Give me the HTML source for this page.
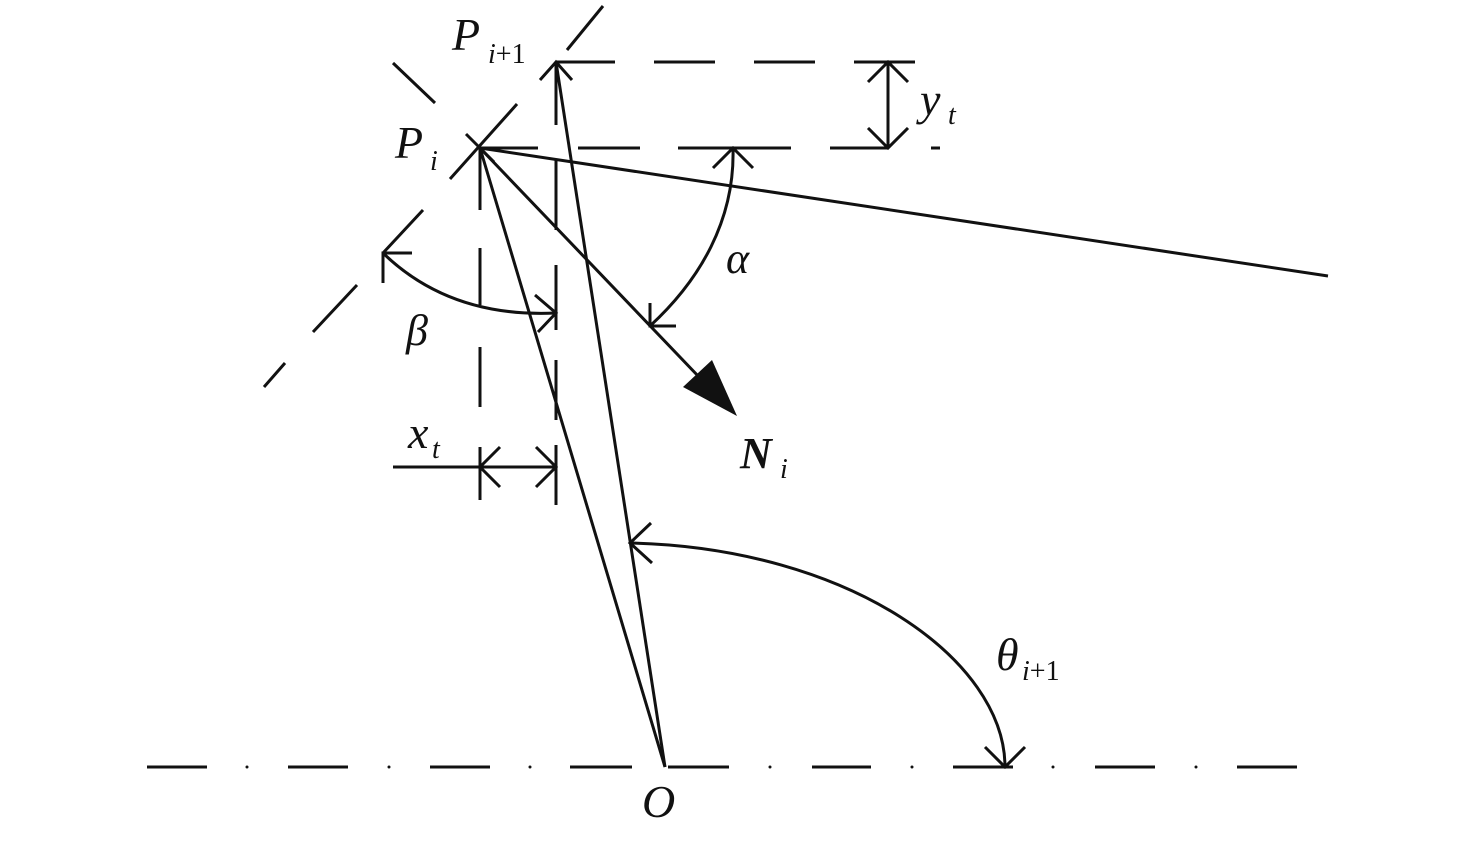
<!DOCTYPE html>
<html><head><meta charset="utf-8"><style>
html,body{margin:0;padding:0;background:#fff;}
svg{display:block}
text{font-family:"Liberation Serif",serif;font-style:italic;fill:#111}
tspan.n{font-style:normal}
</style></head><body>
<svg width="1476" height="843" viewBox="0 0 1476 843" xmlns="http://www.w3.org/2000/svg">
<g stroke="#111" stroke-width="3" fill="none" stroke-linecap="butt">
<line x1="603" y1="6" x2="567" y2="50"/>
<line x1="517" y1="104" x2="450" y2="179"/>
<line x1="423" y1="210" x2="383" y2="253"/>
<line x1="357" y1="285" x2="313" y2="332"/>
<line x1="285" y1="363" x2="264" y2="387"/>
<line x1="393" y1="63" x2="435" y2="103"/>
<path d="M556 62H615M654 62H715M754 62H815M854 62H915"/>
<path d="M480 148H538M578 148H640M678 148H791M830 148H888M931 148H940"/>
<path d="M480 148V210M480 248V305M480 347V407M480 447V500"/>
<path d="M556 62V125M556 160V230M556 265V330M556 360V420M556 445V505"/>
<line x1="888" y1="62" x2="888" y2="148"/>
<path d="M868 82L888 62L908 82M868 128L888 148L908 128"/>
<line x1="393" y1="467" x2="556" y2="467"/>
<path d="M500 447L480 467L500 487M536 447L556 467L536 487"/>
<path d="M540 80L556 62L572 80"/>
<path d="M466 134L494 162"/>
<line x1="480" y1="148" x2="1328" y2="276"/>
<line x1="480" y1="148" x2="665" y2="767"/>
<line x1="556" y1="62" x2="665" y2="767"/>
<line x1="480" y1="148" x2="700" y2="378"/>
<path d="M733 148C735 220 700 280 650 326"/>
<path d="M713 168L733 148L753 168M650 303L650 326L676 326"/>
<path d="M383 253Q450 318 556 313"/>
<path d="M383 283L383 253L412 253M535 295L556 313L538 332"/>
<path d="M630 543C850 548 1005 660 1005 767"/>
<path d="M651 523L630 543L652 563M985 747L1005 767L1025 747"/>
<path d="M147 767H207M288 767H348M430 767H490M570 767H632M668 767H729M812 767H871M953 767H1013M1095 767H1155M1237 767H1297"/>
</g>
<g fill="#111">
<circle cx="247" cy="767" r="1.5"/><circle cx="389" cy="767" r="1.5"/><circle cx="530" cy="767" r="1.5"/>
<circle cx="770" cy="767" r="1.5"/><circle cx="912" cy="767" r="1.5"/><circle cx="1053" cy="767" r="1.5"/><circle cx="1196" cy="767" r="1.5"/>
<polygon points="737,416 683,387 712,360"/>
</g>
<text x="452" y="50" font-size="46">P</text><text x="488" y="63" font-size="28">i<tspan class="n">+1</tspan></text>
<text x="395" y="158" font-size="46">P</text><text x="430" y="170" font-size="28">i</text>
<text x="920" y="115" font-size="46">y</text><text x="948" y="124" font-size="28">t</text>
<text x="726" y="273" font-size="44">α</text>
<text x="406" y="345" font-size="44">β</text>
<text x="408" y="448" font-size="46">x</text><text x="432" y="458" font-size="28">t</text>
<text x="740" y="468" font-size="44" font-weight="bold" font-style="normal">N</text><text x="780" y="478" font-size="28">i</text>
<text x="996" y="670" font-size="46">θ</text><text x="1022" y="680" font-size="28">i<tspan class="n">+1</tspan></text>
<text x="642" y="817" font-size="46">O</text>
</svg>
</body></html>
